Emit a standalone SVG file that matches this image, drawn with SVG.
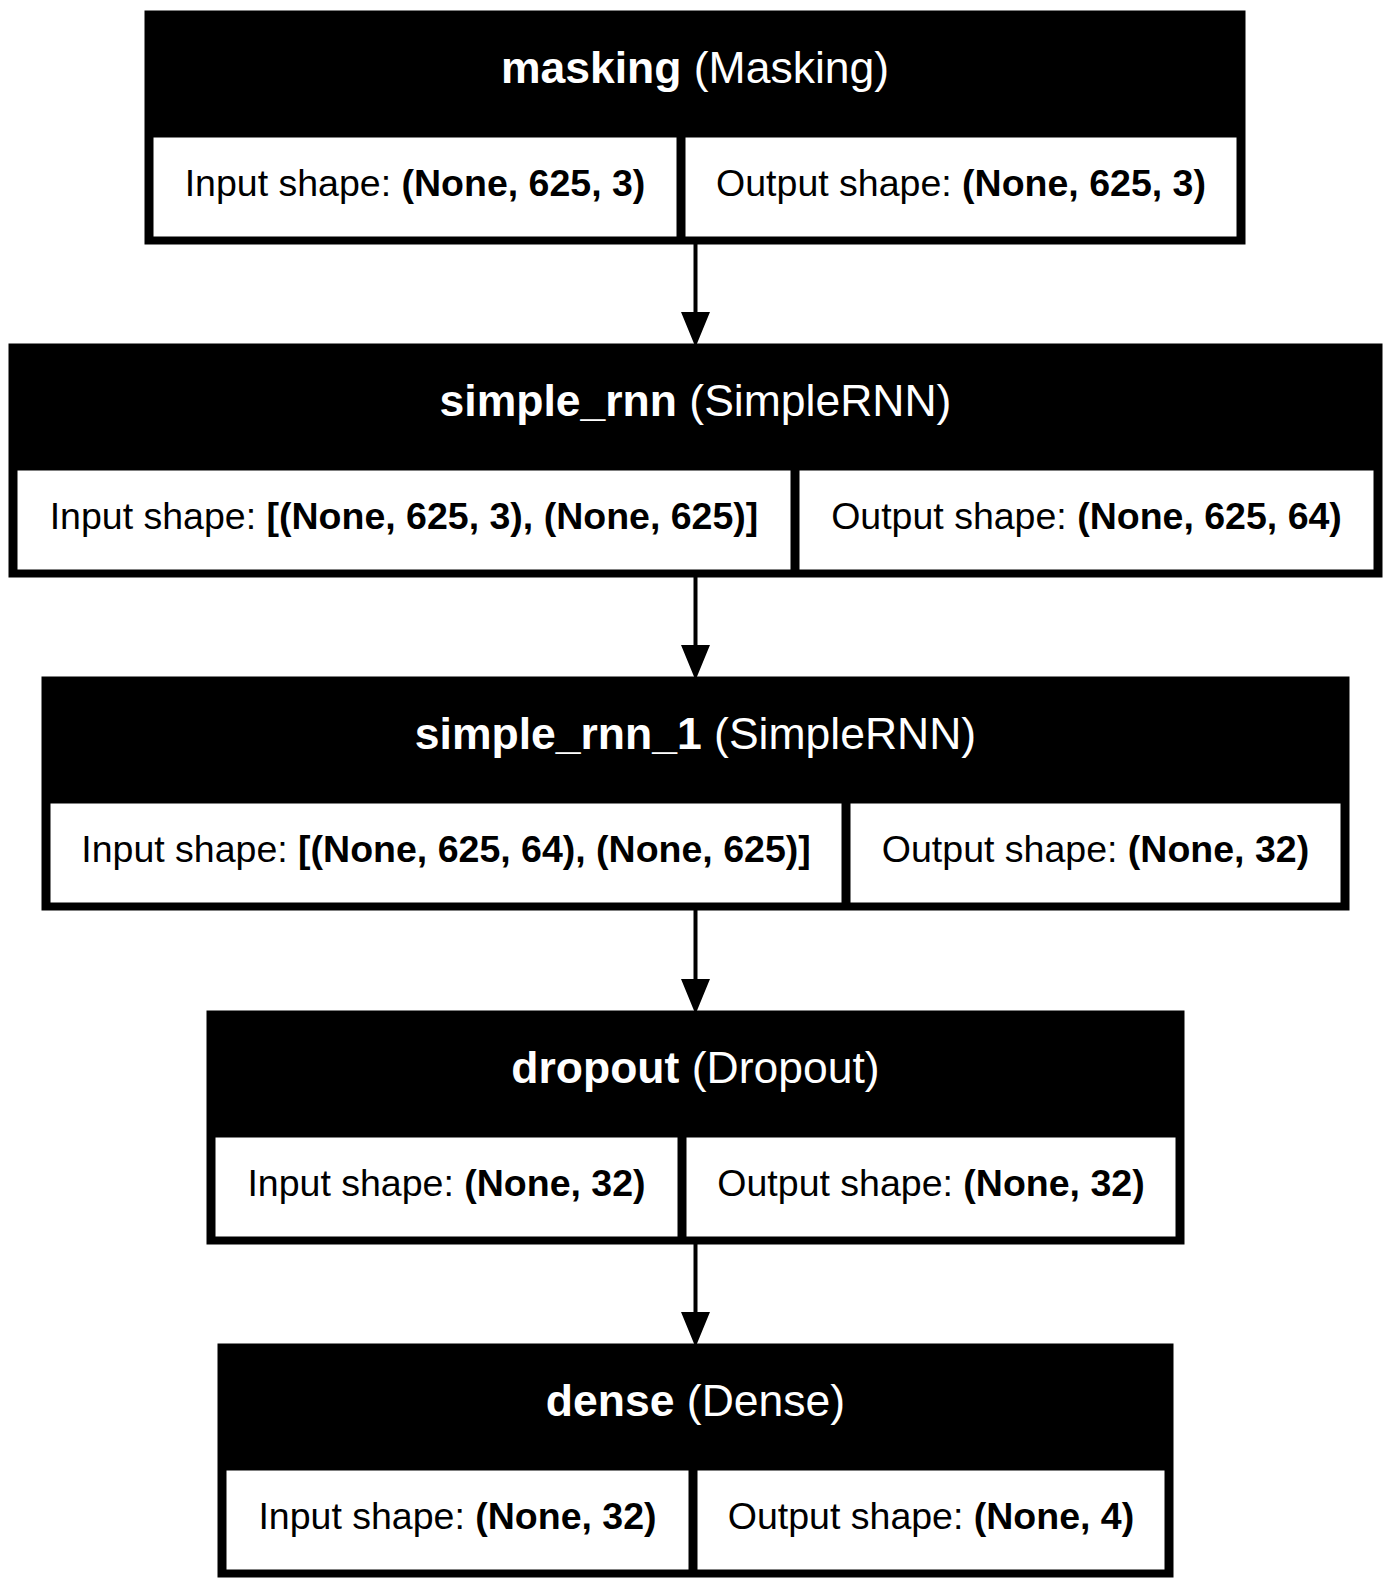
<svg xmlns="http://www.w3.org/2000/svg" width="1392" height="1589" viewBox="0 0 1392 1589">
<style>
.box{fill:#000;stroke:#000;stroke-width:1}
.cell{fill:#fff;stroke:#000;stroke-width:1}
.ttl{font-family:"Liberation Sans",Arial,sans-serif;font-size:44.5px;fill:#fff;text-anchor:middle}
.txt{font-family:"Liberation Sans",Arial,sans-serif;font-size:37.5px;fill:#000;text-anchor:middle}
.bd{font-weight:bold}
.edge{stroke:#000;stroke-width:4;fill:none}
.head{fill:#000;stroke:#000;stroke-width:4;stroke-linejoin:miter}
</style>
<rect width="1392" height="1589" fill="#fff"/>
<g id="connectors">
<line class="edge" x1="695.5" y1="244" x2="695.5" y2="314"/>
<polygon class="head" points="684,314 707,314 695.5,342"/>
<line class="edge" x1="695.5" y1="577" x2="695.5" y2="647"/>
<polygon class="head" points="684,647 707,647 695.5,675"/>
<line class="edge" x1="695.5" y1="910" x2="695.5" y2="981"/>
<polygon class="head" points="684,981 707,981 695.5,1009"/>
<line class="edge" x1="695.5" y1="1244" x2="695.5" y2="1314"/>
<polygon class="head" points="684,1314 707,1314 695.5,1342"/>
</g>
<g id="masking">
<rect class="box" x="145" y="11" width="1100" height="233"/>
<rect class="cell" x="153" y="137" width="524" height="100"/>
<rect class="cell" x="685" y="137" width="552" height="100"/>
<text class="ttl" x="695" y="83"><tspan class="bd">masking</tspan> (Masking)</text>
<text class="txt" x="415" y="195.5">Input shape: <tspan class="bd">(None, 625, 3)</tspan></text>
<text class="txt" x="961" y="195.5">Output shape: <tspan class="bd">(None, 625, 3)</tspan></text>
</g>
<g id="simple_rnn">
<rect class="box" x="9" y="344" width="1373" height="233"/>
<rect class="cell" x="17" y="470" width="774" height="100"/>
<rect class="cell" x="799" y="470" width="575" height="100"/>
<text class="ttl" x="695.5" y="416"><tspan class="bd">simple_rnn</tspan> (SimpleRNN)</text>
<text class="txt" x="404" y="528.5">Input shape: <tspan class="bd">[(None, 625, 3), (None, 625)]</tspan></text>
<text class="txt" x="1086.5" y="528.5">Output shape: <tspan class="bd">(None, 625, 64)</tspan></text>
</g>
<g id="simple_rnn_1">
<rect class="box" x="42" y="677" width="1307" height="233"/>
<rect class="cell" x="50" y="803" width="792" height="100"/>
<rect class="cell" x="850" y="803" width="491" height="100"/>
<text class="ttl" x="695.5" y="749"><tspan class="bd">simple_rnn_1</tspan> (SimpleRNN)</text>
<text class="txt" x="446" y="861.5">Input shape: <tspan class="bd">[(None, 625, 64), (None, 625)]</tspan></text>
<text class="txt" x="1095.5" y="861.5">Output shape: <tspan class="bd">(None, 32)</tspan></text>
</g>
<g id="dropout">
<rect class="box" x="207" y="1011" width="977" height="233"/>
<rect class="cell" x="215" y="1137" width="463" height="100"/>
<rect class="cell" x="686" y="1137" width="490" height="100"/>
<text class="ttl" x="695.5" y="1083"><tspan class="bd">dropout</tspan> (Dropout)</text>
<text class="txt" x="446.5" y="1195.5">Input shape: <tspan class="bd">(None, 32)</tspan></text>
<text class="txt" x="931" y="1195.5">Output shape: <tspan class="bd">(None, 32)</tspan></text>
</g>
<g id="dense">
<rect class="box" x="218" y="1344" width="955" height="233"/>
<rect class="cell" x="226" y="1470" width="463" height="100"/>
<rect class="cell" x="697" y="1470" width="468" height="100"/>
<text class="ttl" x="695.5" y="1416"><tspan class="bd">dense</tspan> (Dense)</text>
<text class="txt" x="457.5" y="1528.5">Input shape: <tspan class="bd">(None, 32)</tspan></text>
<text class="txt" x="931" y="1528.5">Output shape: <tspan class="bd">(None, 4)</tspan></text>
</g>
</svg>
